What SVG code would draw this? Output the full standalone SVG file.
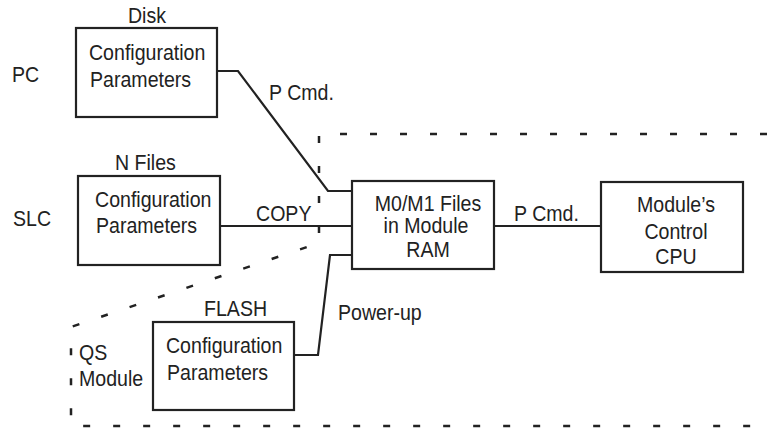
<svg xmlns="http://www.w3.org/2000/svg" width="767" height="433" viewBox="0 0 767 433">
  <style>
    text { font-family: "Liberation Sans", Arial, sans-serif; font-size: 22px; fill: #222;
           transform: scaleX(0.89); transform-box: fill-box; transform-origin: left center; }
    .mid { text-anchor: middle; transform-origin: center; }
    .box { fill: #fff; stroke: #222; stroke-width: 2.2; }
    .wire { fill: none; stroke: #222; stroke-width: 2.2; stroke-linejoin: miter; }
    .dash { fill: none; stroke: #222; stroke-width: 2.5; stroke-dasharray: 7 23; }
  </style>
  <rect width="767" height="433" fill="#fff"/>

  <g id="boundary">
    <path class="dash" d="M767,134 H319 V243 L71,327 V426 H767"/>
  </g>

  <g id="side-labels">
    <text x="12" y="82">PC</text>
    <text x="13" y="226">SLC</text>
    <text x="79" y="360">QS</text>
    <text x="79" y="386">Module</text>
  </g>

  <g id="connectors">
    <path class="wire" d="M217,71 H238 L328,191 H352"/>
    <path class="wire" d="M220,226 H352"/>
    <path class="wire" d="M494,226 H601"/>
    <path class="wire" d="M352,255 H330 L318,355 H294"/>
    <text x="269" y="100">P Cmd.</text>
    <text x="256" y="221">COPY</text>
    <text x="514" y="221">P Cmd.</text>
    <text x="338" y="320">Power-up</text>
  </g>

  <g id="disk">
    <text x="128" y="23">Disk</text>
    <rect class="box" x="76" y="28" width="141" height="89"/>
    <text x="89" y="60">Configuration</text>
    <text x="90" y="87">Parameters</text>
  </g>

  <g id="nfiles">
    <text x="115" y="170">N Files</text>
    <rect class="box" x="78" y="176" width="142" height="89"/>
    <text x="95" y="207">Configuration</text>
    <text x="96" y="233">Parameters</text>
  </g>

  <g id="flash">
    <text x="204" y="316">FLASH</text>
    <rect class="box" x="153" y="322" width="141" height="88"/>
    <text x="166" y="353">Configuration</text>
    <text x="167" y="380">Parameters</text>
  </g>

  <g id="ram">
    <rect class="box" x="352" y="181" width="142" height="88"/>
    <text class="mid" x="428" y="211">M0/M1 Files</text>
    <text class="mid" x="426" y="233">in Module</text>
    <text class="mid" x="428" y="257">RAM</text>
  </g>

  <g id="cpu">
    <rect class="box" x="601" y="182" width="142" height="90"/>
    <text class="mid" x="676" y="212">Module’s</text>
    <text class="mid" x="676" y="239">Control</text>
    <text class="mid" x="676" y="264">CPU</text>
  </g>
</svg>
